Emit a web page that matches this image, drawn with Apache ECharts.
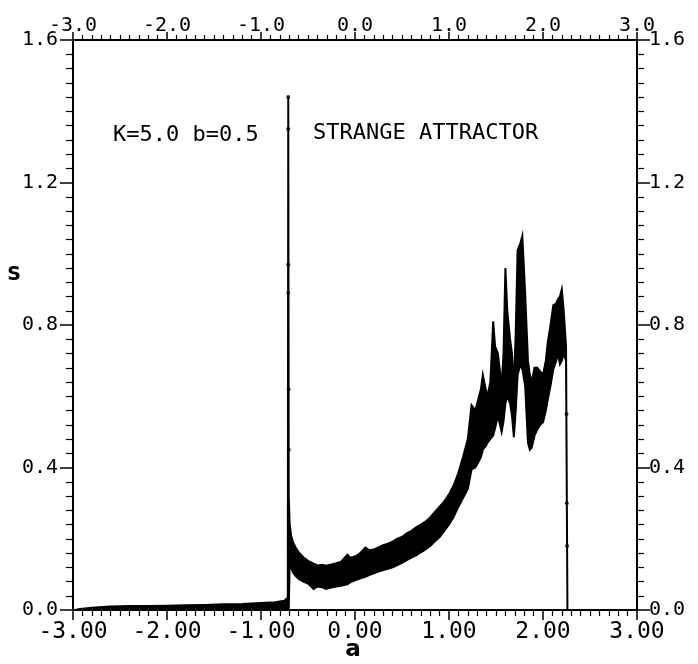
<!DOCTYPE html>
<html>
<head>
<meta charset="utf-8">
<script src="https://cdn.jsdelivr.net/npm/echarts@6/dist/echarts.min.js"></script>
<style>
  html, body { margin: 0; padding: 0; background: #fff; }
  #chart { width: 698px; height: 664px; }
</style>
</head>
<body>
<div id="chart"></div>
<script>
// Parameter a along the horizontal axis
const aVals = [
  -2.95, -2.8, -2.6, -2.4, -2.2, -2.0, -1.8, -1.6, -1.4, -1.2, -1.0, -0.85, -0.75, -0.715,
  -0.71, -0.705, -0.695, -0.68, -0.66, -0.63, -0.60, -0.55, -0.50, -0.44, -0.40, -0.35,
  -0.31, -0.25, -0.20, -0.15, -0.08, -0.05, 0.00, 0.05, 0.11, 0.15, 0.20, 0.25, 0.30,
  0.35, 0.40, 0.45, 0.50, 0.55, 0.60, 0.65, 0.70, 0.75, 0.80, 0.85, 0.90, 0.95, 1.00,
  1.05, 1.10, 1.15, 1.20, 1.24, 1.28, 1.31, 1.34, 1.36, 1.39, 1.41, 1.44, 1.47, 1.49,
  1.52, 1.56, 1.58, 1.60, 1.62, 1.65, 1.67, 1.69, 1.71, 1.73, 1.76, 1.78, 1.81, 1.84,
  1.86, 1.88, 1.91, 1.94, 1.97, 2.00, 2.03, 2.05, 2.08, 2.11, 2.14, 2.16, 2.18, 2.20,
  2.22, 2.245, 2.26, 2.40, 3.00
];
// Upper edge of the S band
const sUpper = [
  0.002, 0.006, 0.010, 0.011, 0.011, 0.012, 0.013, 0.014, 0.016, 0.017, 0.020, 0.022, 0.026, 0.035,
  1.44, 0.32, 0.24, 0.21, 0.19, 0.175, 0.162, 0.148, 0.138, 0.130, 0.125, 0.127,
  0.124, 0.128, 0.131, 0.135, 0.155, 0.147, 0.150, 0.158, 0.175, 0.168, 0.170, 0.176, 0.182,
  0.186, 0.192, 0.200, 0.205, 0.215, 0.222, 0.232, 0.240, 0.248, 0.260, 0.275, 0.290, 0.305, 0.325,
  0.350, 0.385, 0.430, 0.480, 0.575, 0.560, 0.590, 0.620, 0.660, 0.620, 0.600, 0.640, 0.810, 0.740,
  0.720, 0.630, 0.720, 0.960, 0.840, 0.760, 0.720, 0.620, 0.780, 1.010, 1.030, 1.050, 0.890, 0.700,
  0.660, 0.640, 0.680, 0.680, 0.670, 0.660, 0.700, 0.750, 0.800, 0.856, 0.860, 0.873, 0.880, 0.900,
  0.840, 0.740, 0.0, 0.0, 0.0
];
// Lower edge of the S band
const sLower = [
  0, 0, 0, 0, 0, 0, 0, 0, 0, 0, 0, 0, 0, 0,
  0, 0, 0.13, 0.12, 0.105, 0.095, 0.087, 0.080, 0.074, 0.059, 0.066, 0.064,
  0.059, 0.063, 0.066, 0.068, 0.072, 0.078, 0.083, 0.088, 0.093, 0.098, 0.103, 0.108, 0.112,
  0.116, 0.120, 0.126, 0.132, 0.140, 0.147, 0.153, 0.162, 0.170, 0.180, 0.193, 0.205, 0.222, 0.240,
  0.262, 0.290, 0.315, 0.340, 0.395, 0.400, 0.414, 0.430, 0.450, 0.460, 0.470, 0.480, 0.490, 0.510,
  0.546, 0.500, 0.530, 0.580, 0.600, 0.580, 0.546, 0.485, 0.560, 0.660, 0.690, 0.676, 0.630, 0.470,
  0.450, 0.456, 0.490, 0.507, 0.520, 0.527, 0.560, 0.590, 0.630, 0.676, 0.700, 0.720, 0.690, 0.700,
  0.720, 0.700, 0.0, 0.0, 0.0
];
// Isolated plotted points along the jumps
const jumpDots = [
  [-0.71, 1.44], [-0.71, 1.35], [-0.71, 0.97], [-0.71, 0.89], [-0.707, 0.62], [-0.705, 0.45],
  [2.25, 0.55], [2.253, 0.30], [2.256, 0.18]
];

const xTicks = [-3, -2, -1, 0, 1, 2, 3];
const yTicks = [0.0, 0.4, 0.8, 1.2, 1.6];

const FONT = '"DejaVu Sans Mono", "Liberation Mono", monospace';

function xAxisBase(pos, digits, fontSize, margin, majorLen, minorLen) {
  return {
    type: 'value', position: pos, min: xTicks[0], max: xTicks[xTicks.length - 1], interval: 1,
    axisLine: { show: true, onZero: false, lineStyle: { color: '#000', width: 2 } },
    axisTick: { show: true, inside: false, length: majorLen, lineStyle: { color: '#000', width: 1.5 } },
    minorTick: { show: true, splitNumber: 10, length: minorLen, lineStyle: { color: '#000', width: 1.2 } },
    splitLine: { show: false },
    axisLabel: {
      show: true, margin: margin, color: '#000', fontFamily: FONT, fontSize: fontSize,
      showMinLabel: true, showMaxLabel: true,
      formatter: v => v.toFixed(digits)
    }
  };
}
function yAxisBase(pos, margin) {
  return {
    type: 'value', position: pos, min: yTicks[0], max: yTicks[yTicks.length - 1], interval: 0.4,
    axisLine: { show: true, onZero: false, lineStyle: { color: '#000', width: 2 } },
    axisTick: { show: true, inside: false, length: 13, lineStyle: { color: '#000', width: 1.5 } },
    minorTick: { show: true, splitNumber: 10, length: 7, lineStyle: { color: '#000', width: 1.2 } },
    splitLine: { show: false },
    axisLabel: {
      show: true, margin: margin, color: '#000', fontFamily: FONT, fontSize: 20,
      showMinLabel: true, showMaxLabel: true,
      formatter: v => v.toFixed(1)
    }
  };
}

const chart = echarts.init(document.getElementById('chart'), null, { renderer: 'canvas' });
chart.setOption({
  backgroundColor: '#fff',
  animation: false,
  grid: { left: 73, right: 61, top: 40, bottom: 54, containLabel: false },
  xAxis: [
    xAxisBase('bottom', 2, 23, 11, 10, 6),
    xAxisBase('top', 1, 20, 4, 8, 5)
  ],
  yAxis: [
    yAxisBase('left', 15),
    yAxisBase('right', 12)
  ],
  series: [
    {
      type: 'custom',
      xAxisIndex: 0, yAxisIndex: 0,
      clip: true,
      data: aVals.map((a, i) => [a, sUpper[i], sLower[i]]),
      encode: { x: 0, y: [1, 2] },
      renderItem: function (params, api) {
        if (params.dataIndex !== 0) return null;
        const pts = [];
        for (let i = 0; i < aVals.length; i++) pts.push(api.coord([aVals[i], sUpper[i]]));
        for (let i = aVals.length - 1; i >= 0; i--) pts.push(api.coord([aVals[i], sLower[i]]));
        return {
          type: 'polygon',
          shape: { points: pts },
          style: { fill: '#000', stroke: '#000', lineWidth: 2, lineJoin: 'miter' }
        };
      }
    },
    {
      type: 'scatter',
      xAxisIndex: 0, yAxisIndex: 0,
      symbol: 'circle', symbolSize: 4,
      itemStyle: { color: '#000' },
      data: jumpDots
    }
  ],
  graphic: [
    { type: 'text', x: 14, y: 275, style: { text: 'S', font: 'bold 19px "DejaVu Sans"', fill: '#000', textAlign: 'center', textVerticalAlign: 'middle' } },
    { type: 'text', x: 353, y: 650, style: { text: 'a', font: 'bold 23px "DejaVu Sans"', fill: '#000', textAlign: 'center', textVerticalAlign: 'middle' } },
    { type: 'text', x: 113, y: 135, style: { text: 'K=5.0 b=0.5', font: '22px ' + FONT, fill: '#000', textAlign: 'left', textVerticalAlign: 'middle' } },
    { type: 'text', x: 313, y: 133, style: { text: 'STRANGE ATTRACTOR', font: '22px ' + FONT, fill: '#000', textAlign: 'left', textVerticalAlign: 'middle' } }
  ]
});
</script>
</body>
</html>
